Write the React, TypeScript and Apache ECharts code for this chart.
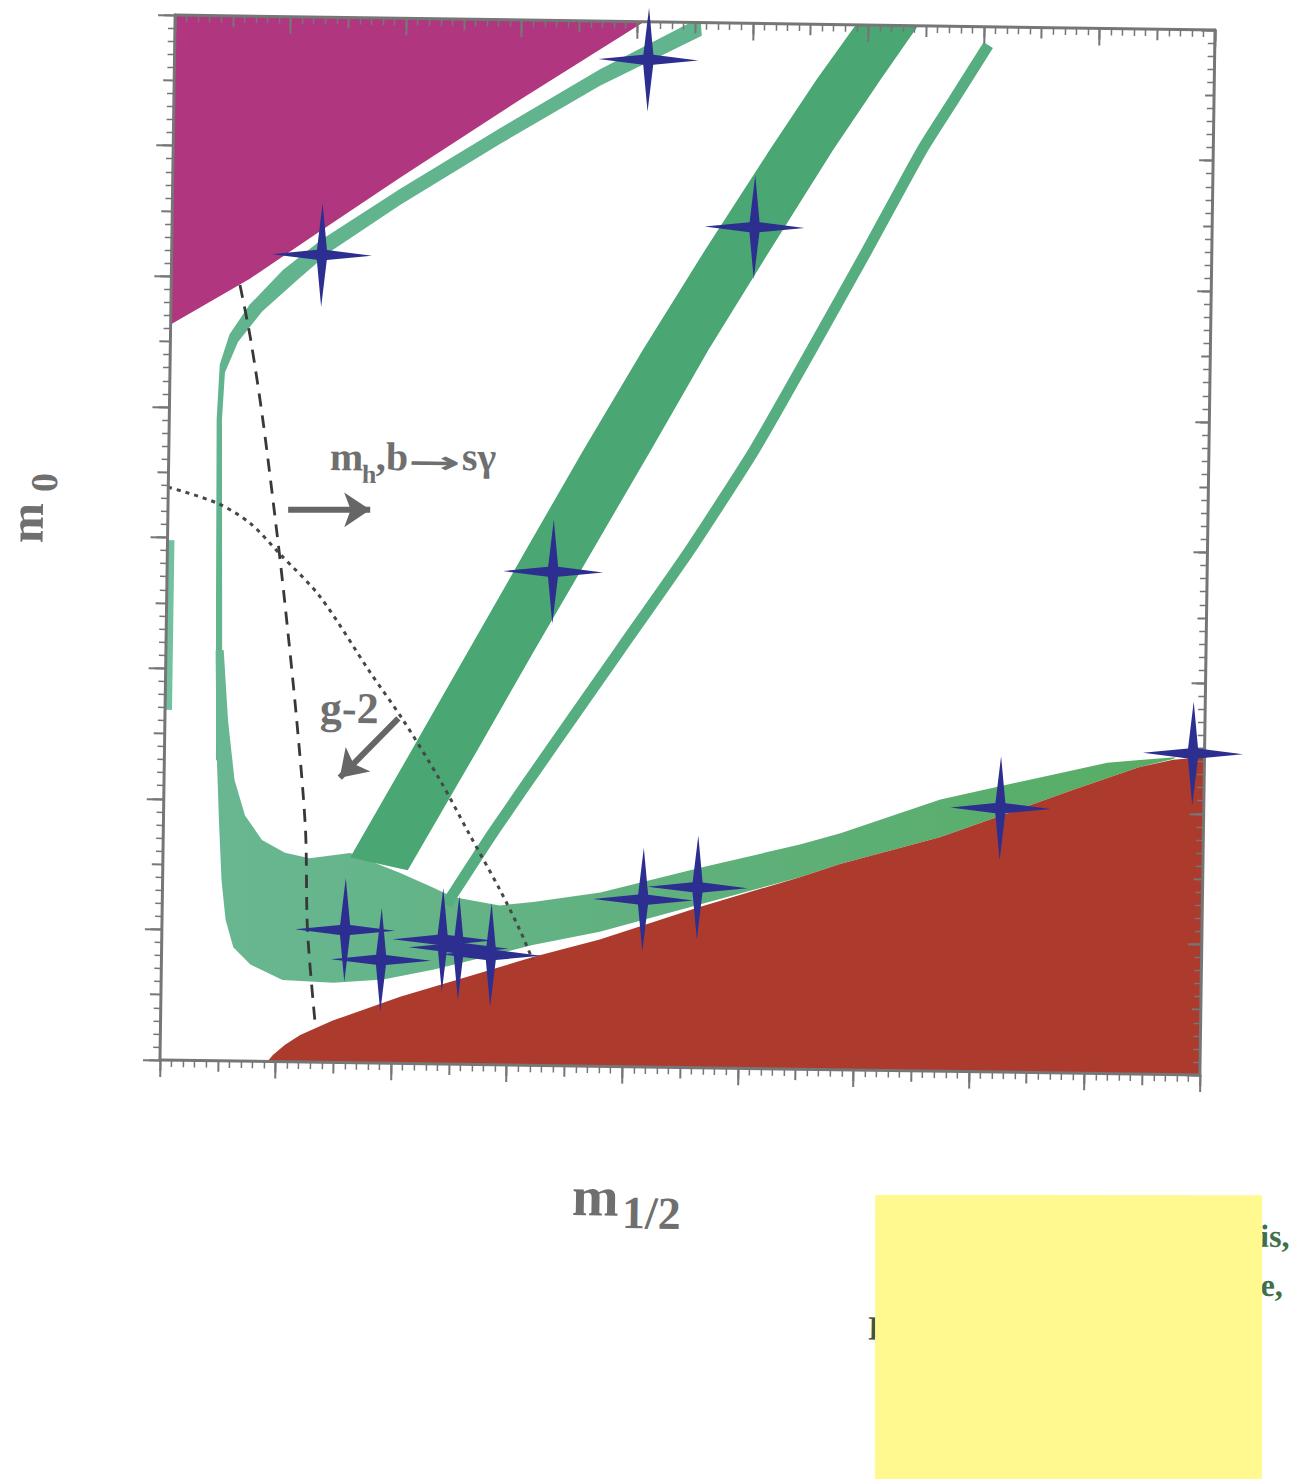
import { useEffect, useRef } from "react";
import * as echarts from "echarts";

// Schematic (m1/2, m0) plane: axes carry ticks only, no numeric labels.
const X_MIN = 0;
const X_MAX = 900;
const Y_MIN = 0;
const Y_MAX = 800;

// Excluded region at large m0 / small m1/2 (magenta wedge, upper left)
const magentaRegion = [
  [0, 800], [406, 800], [299.5, 739], [196.6, 678], [129.7, 637], [68, 599], [0, 563],
];

// Narrow strip hugging the magenta wedge, bending down into a vertical line
const upperStrip = [
  [446, 800], [368, 763], [282.5, 717], [197, 669.5], [130, 630], [96.5, 606], [68, 579],
  [51, 556], [43, 533], [41, 491], [42.7, 353], [44.7, 230],
  [50, 230], [48, 353], [45.6, 491], [47.6, 527], [58.5, 550.5], [79, 574], [111, 600],
  [137, 620.5], [197, 657], [283, 705], [368.5, 750.6], [456, 790], [455, 800],
];

// Thin strip along the left axis
const axisStrip = [[0, 268], [6, 268], [6, 398], [0, 398]];

// Bulge at small m1/2 continuing as the band above the red region
const lowerBand = [
  [43, 314], [44, 276], [45.5, 230], [48, 184], [51, 138], [55, 108], [62, 87], [77, 74],
  [105, 62.5], [149, 61], [192, 64], [235, 72], [278, 82], [321, 92], [379, 103], [465, 125],
  [551.5, 147], [586, 157.5], [672, 179], [730, 198], [787, 217], [844, 235], [873, 241.6],
  [875, 243], [844, 240.5], [816, 238], [758, 226], [672, 208], [586, 181], [551, 172],
  [465, 153], [379, 133], [321, 125], [292, 122], [251.5, 128], [234, 135], [205, 146],
  [162, 160.5], [127, 156], [105.5, 160], [85.5, 169.5], [70.5, 188], [61, 215], [54.6, 261],
  [50, 314.5],
];

// Wide diagonal funnel strip (left edge upwards, right edge downwards)
const funnelWide = [
  [162, 157], [214, 240], [262, 317], [310, 394], [359, 472], [409, 549], [461.5, 626],
  [516, 703], [556, 758], [589, 800],
  [643, 800], [611, 758], [571, 704], [518, 627], [466, 550], [417, 472], [368, 395],
  [319, 318], [271, 241], [212, 148],
];

// Narrow diagonal funnel strip (centre line)
const funnelNarrow = [
  [704, 786], [675, 744], [648, 705], [602, 628], [555, 551], [507, 474], [452, 396],
  [393, 319], [334, 242], [287, 180], [251, 129.5], [246, 122],
];

// Excluded region at small m0 (red, lower right)
const redRegion = [
  [93, 0], [97.6, 5], [108, 13], [121, 20.6], [149, 32], [207, 51], [265, 67], [321.5, 83],
  [379, 97], [465, 123], [551.5, 147], [586, 157.5], [672, 179], [730, 198], [787, 217],
  [844, 235], [873, 241], [900, 243.5], [900, 0],
];

// m_h, b -> s gamma bound (dashed)
const dashedContour = [
  [59.5, 594], [69, 554.5], [81, 491], [95, 402], [102, 353.5], [114, 262], [123, 178],
  [126, 101], [134, 28],
];

// g-2 contour (dotted)
const dottedContour = [
  [0, 438.5], [42, 427], [71, 412], [97, 389], [133, 356], [177, 299], [206, 263],
  [239, 217], [265, 176], [292, 134], [310, 103], [321, 81],
];

// Benchmark points (stars)
const benchmarkPoints = [
  [410, 771], [130, 618], [504, 644], [334, 378], [724, 202], [890, 246], [416, 128],
  [463, 138], [158.5, 101.5], [190, 79], [243, 95], [257, 89], [285, 84],
];

// Direction arrows next to the constraint labels
const arrowMh = [[104, 422.5], [175, 423.4]];
const arrowG2 = [[202, 264], [152, 218]];

const AXIS_GREY = "#767676";
const TEXT_GREY = "#6f6f6f";
const SERIF = "Liberation Serif";

const STAR_PATH =
  "path://M0,-52 L5,-5 L50,0 L5,5 L0,52 L-5,5 L-50,0 L-5,-5 Z";

function polygonSeries(name: string, pts: number[][], fill: any, z: number) {
  return {
    type: "custom",
    name,
    data: pts,
    z,
    silent: true,
    encode: { x: 0, y: 1 },
    renderItem: (params: any, api: any) => {
      if (params.dataIndex !== 0) return null;
      return {
        type: "polygon",
        shape: { points: pts.map((p) => api.coord(p)) },
        style: { fill },
      };
    },
  };
}

function makeAxis(
  position: string,
  min: number,
  max: number,
  interval: number,
  tickLen: number,
  inside: boolean,
  minor: boolean,
  line: boolean
) {
  return {
    type: "value",
    position,
    min,
    max,
    interval,
    z: 10,
    axisLine: { show: line, onZero: false, lineStyle: { color: AXIS_GREY, width: 3 } },
    axisTick: { show: true, inside, length: tickLen, lineStyle: { color: AXIS_GREY, width: 2 } },
    minorTick: {
      show: minor,
      splitNumber: 5,
      length: 7,
      lineStyle: { color: AXIS_GREY, width: 1.5 },
    },
    axisLabel: { show: false },
    splitLine: { show: false },
    minorSplitLine: { show: false },
  };
}

function label(text: string, x: number, y: number, size: number, opts: any = {}) {
  return {
    type: "text",
    x,
    y,
    rotation: opts.rotation || 0,
    scaleX: opts.scaleX || 1,
    z: opts.z || 50,
    style: {
      text,
      fill: opts.fill || TEXT_GREY,
      fontSize: size,
      fontWeight: "bold",
      fontFamily: opts.family || SERIF,
      align: opts.align || "left",
      verticalAlign: "middle",
    },
  };
}

export default function App() {
  const ref = useRef<HTMLDivElement>(null);

  useEffect(() => {
    if (!ref.current) return;
    const chart = echarts.init(ref.current, null, { renderer: "svg" });

    const bandFill = new echarts.graphic.LinearGradient(0, 0, 1, 0, [
      { offset: 0, color: "#68b792" },
      { offset: 0.5, color: "#5fb07c" },
      { offset: 1, color: "#57ad63" },
    ]);

    chart.setOption({
      animation: false,
      backgroundColor: "#ffffff",
      grid: { left: 167.5, top: 22.5, width: 1040, height: 1045, containLabel: false },
      xAxis: [
        makeAxis("bottom", X_MIN, X_MAX, 50, 11, false, true, true),
        makeAxis("bottom", X_MIN, X_MAX, 100, 17, false, false, false),
        makeAxis("top", X_MIN, X_MAX, 50, 11, true, true, true),
        makeAxis("top", X_MIN, X_MAX, 100, 17, true, false, false),
      ],
      yAxis: [
        makeAxis("left", Y_MIN, Y_MAX, 50, 11, false, true, true),
        makeAxis("left", Y_MIN, Y_MAX, 100, 17, false, false, false),
        makeAxis("right", Y_MIN, Y_MAX, 50, 9, true, true, true),
        makeAxis("right", Y_MIN, Y_MAX, 100, 14, true, false, false),
      ],
      series: [
        polygonSeries("magenta", magentaRegion, "#b0377f", 2),
        polygonSeries("upper strip", upperStrip, "#62b48f", 3),
        polygonSeries("axis strip", axisStrip, "#72c2a0", 3),
        polygonSeries("lower band", lowerBand, bandFill, 3),
        polygonSeries("funnel", funnelWide, "#4aa673", 3),
        {
          type: "line",
          name: "narrow funnel",
          data: funnelNarrow,
          showSymbol: false,
          smooth: 0.2,
          z: 3,
          silent: true,
          lineStyle: { color: "#55ad80", width: 11, cap: "butt" },
        },
        polygonSeries("red", redRegion, "#ad3b2d", 4),
        {
          type: "line",
          name: "m_h, b->s gamma",
          data: dashedContour,
          showSymbol: false,
          smooth: 0.3,
          z: 5,
          silent: true,
          lineStyle: { color: "#383838", width: 2.8, type: [13, 9] },
        },
        {
          type: "line",
          name: "g-2",
          data: dottedContour,
          showSymbol: false,
          smooth: 0.3,
          z: 5,
          silent: true,
          lineStyle: { color: "#474747", width: 3, type: [4, 5] },
        },
        {
          type: "lines",
          coordinateSystem: "cartesian2d",
          z: 6,
          silent: true,
          symbol: ["none", "arrow"],
          symbolSize: 26,
          lineStyle: { color: "#666666", width: 6, opacity: 1 },
          data: [{ coords: arrowMh }, { coords: arrowG2 }],
        },
        {
          type: "scatter",
          name: "benchmarks",
          data: benchmarkPoints,
          symbol: STAR_PATH,
          symbolSize: [100, 104],
          z: 20,
          silent: true,
          itemStyle: { color: "#2c2f8f", opacity: 1 },
        },
      ],
      graphic: [
        // constraint labels
        label("m", 328.7, 461.7, 40),
        label("h", 361, 478.9, 26),
        label(",b", 374.7, 461.0, 40),
        label("\u2192", 406.8, 466.0, 30, { family: "DejaVu Sans", scaleX: 2.1 }),
        label("s\u03b3", 460.7, 459.8, 40),
        label("g-2", 322.4, 713.3, 44),
        // axis titles
        label("m", 26, 552.6, 48, { rotation: Math.PI / 2 }),
        label("0", 43.2, 501.3, 38, { rotation: Math.PI / 2 }),
        label("m", 581.4, 1197.7, 56),
        label("1/2", 631.7, 1213.5, 46),
        // author note, mostly covered by the yellow sticker
        label("Battaglia, De Roeck, Ellis,", 1299.5, 1227.3, 32, { align: "right", fill: "#3f7048", z: 40 }),
        label("Gianotti, Matchev, Olive,", 1293.5, 1276.4, 32, { align: "right", fill: "#3f7048", z: 40 }),
        label("Pape, Wells", 879.4, 1325.4, 34, { fill: "#3f5548", z: 40 }),
        {
          type: "rect",
          x: 1080.1,
          y: 1339.5,
          rotation: 0.0145,
          z: 60,
          shape: { x: -193.5, y: -150, width: 387, height: 300 },
          style: { fill: "#fff98f" },
        },
      ],
    });

    return () => chart.dispose();
  }, []);

  return (
    <div
      style={{
        position: "fixed",
        left: 0,
        top: 0,
        width: 1290,
        height: 1479,
        overflow: "hidden",
        background: "#ffffff",
      }}
    >
      <div
        ref={ref}
        style={{
          position: "absolute",
          left: 0,
          top: 0,
          width: 1340,
          height: 1500,
          transform: "rotate(0.83deg)",
          transformOrigin: "687.5px 545px",
        }}
      />
    </div>
  );
}
